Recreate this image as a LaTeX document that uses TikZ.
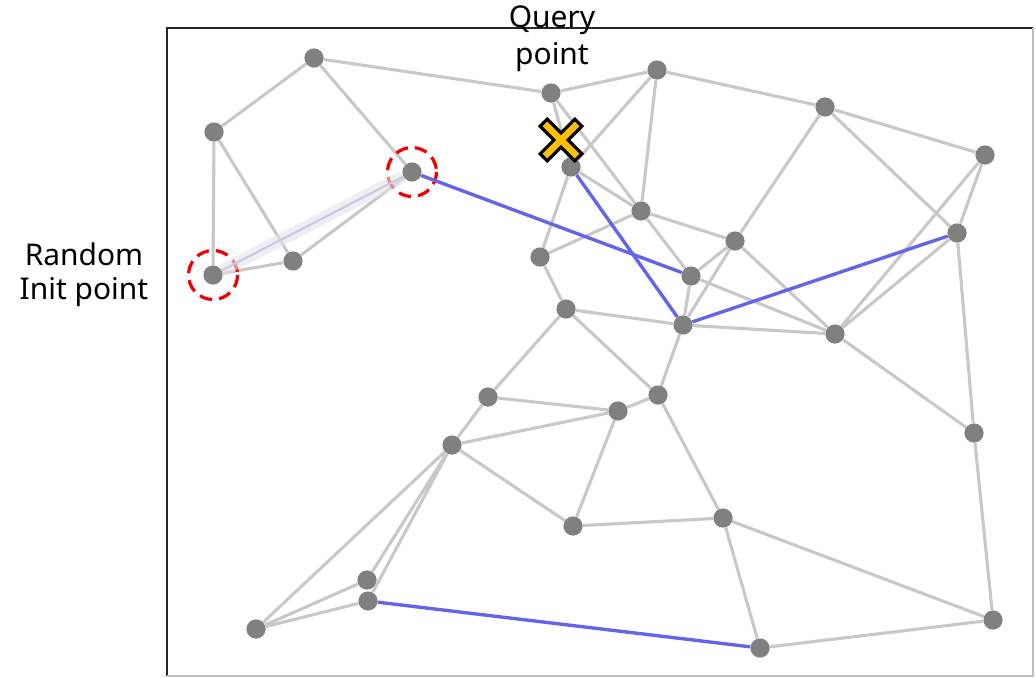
\documentclass[tikz,border=0pt]{standalone}
\usepackage{fontspec}
\setmainfont{Noto Sans}
\usetikzlibrary{calc}

\definecolor{edgegray}{RGB}{200,200,200}
\definecolor{nodegray}{RGB}{128,128,128}
\definecolor{routeblue}{RGB}{100,100,235}
\definecolor{ringred}{RGB}{240,0,0}
\definecolor{crossgold}{RGB}{255,192,0}
\definecolor{lavender}{RGB}{200,200,232}

\tikzset{
	pt/.style={circle, fill=nodegray, inner sep=0pt, minimum size=0.48cm},
	edge/.style={draw=edgegray, line width=2.2pt},
	route/.style={draw=routeblue, line width=2.4pt},
	ring/.style={draw=ringred, line width=2.3pt, dash pattern=on 9pt off 5pt},
	lbl/.style={inner sep=0pt, align=center},
}

\begin{document}
\begin{tikzpicture}[x=0.025cm, y=-0.025cm]
		%%%%% START %%%%%
		\useasboundingbox (0,0) rectangle (1036,677);
		
		% frame
		\draw[line width=1.4pt, color=black!85] (167,676) -- (167,28) -- (1033,28);
		\draw[line width=0.8pt, color=black!25] (167,676) -- (1033,676) -- (1033,28);
		
		% points
		\node[pt] (v1) at (314,58) {};
		\node[pt] (v2) at (214,132) {};
		\node[pt] (v3) at (412,172) {};
		\node[pt] (v4) at (213,275) {};
		\node[pt] (v5) at (293,261) {};
		\node[pt] (v6) at (551,93) {};
		\node[pt] (v7) at (657,70) {};
		\node[pt] (v8) at (825,107) {};
		\node[pt] (v9) at (985,155) {};
		\node[pt] (v10) at (571,167) {};
		\node[pt] (v11) at (641,211) {};
		\node[pt] (v12) at (735,241) {};
		\node[pt] (v13) at (957,233) {};
		\node[pt] (v14) at (540,257) {};
		\node[pt] (v15) at (691,276) {};
		\node[pt] (v16) at (566,309) {};
		\node[pt] (v17) at (683,325) {};
		\node[pt] (v18) at (835,334) {};
		\node[pt] (v19) at (488,397) {};
		\node[pt] (v20) at (618,411) {};
		\node[pt] (v21) at (658,395) {};
		\node[pt] (v22) at (452,445) {};
		\node[pt] (v23) at (974,433) {};
		\node[pt] (v24) at (573,526) {};
		\node[pt] (v25) at (723,518) {};
		\node[pt] (v26) at (367,580) {};
		\node[pt] (v27) at (368,601) {};
		\node[pt] (v28) at (256,629) {};
		\node[pt] (v29) at (760,648) {};
		\node[pt] (v30) at (993,620) {};
		
		% graph edges
		\draw[edge] (v1) -- (v2) (v1) -- (v3) (v1) -- (v6);
		\draw[edge] (v2) -- (v4) (v2) -- (v5) (v4) -- (v5) (v5) -- (v3);
		\draw[edge] (v6) -- (v7) (v7) -- (v8) (v8) -- (v9);
		\draw[edge] (v6) -- (v10) (v6) -- (v11) (v7) -- (v10) (v7) -- (v11);
		\draw[edge] (v10) -- (v11) (v10) -- (v14) (v11) -- (v14);
		\draw[edge] (v11) -- (v12) (v11) -- (v15) (v8) -- (v12) (v8) -- (v13);
		\draw[edge] (v9) -- (v13) (v9) -- (v18) (v13) -- (v18);
		\draw[edge] (v12) -- (v15) (v12) -- (v17) (v12) -- (v18);
		\draw[edge] (v15) -- (v17) (v15) -- (v18) (v17) -- (v18);
		\draw[edge] (v14) -- (v16) (v16) -- (v17);
		\draw[edge] (v13) -- (v23) (v18) -- (v23) (v23) -- (v30);
		\draw[edge] (v16) -- (v19) (v16) -- (v21) (v17) -- (v21);
		\draw[edge] (v19) -- (v20) (v19) -- (v22) (v22) -- (v20) (v20) -- (v21);
		\draw[edge] (v20) -- (v24) (v22) -- (v24) (v21) -- (v25) (v24) -- (v25);
		\draw[edge] (v25) -- (v29) (v25) -- (v30) (v29) -- (v30);
		\draw[edge] (v22) -- (v26) (v22) -- (v27) (v22) -- (v28);
		\draw[edge] (v28) -- (v26) (v28) -- (v27);
		
		% start and entry rings
		\draw[ring] (v3) circle (24.5);
		\draw[ring] (v4) circle (24.5);
		
		% first hop
		\draw[line width=9pt, color=black!10, opacity=0.6] (v4) -- (v3);
		\draw[line width=1.5pt, color=lavender] (v4) -- (v3);
		
		% search route
		\draw[route] (v3) -- (v15);
		\draw[route] (v10) -- (v17);
		\draw[route] (v17) -- (v13);
		\draw[route] (v27) -- (v29);
		
		% query cross
		\begin{scope}[shift={(561,140)}, rotate=45]
			\draw[fill=crossgold, line width=2.2pt, line join=miter]
				(5,5) -- (24.5,5) -- (24.5,-5) -- (5,-5) -- (5,-24.5) -- (-5,-24.5) --
				(-5,-5) -- (-24.5,-5) -- (-24.5,5) -- (-5,5) -- (-5,24.5) -- (5,24.5) -- cycle;
		\end{scope}
		
		% labels
		\node[lbl, font=\fontsize{21.3}{26.3}\selectfont, anchor=base] (query) at (552,64.5) {Query\\point};
		\node[lbl, font=\fontsize{21.3}{23.5}\selectfont, anchor=base] (init) at (84,299) {Random\\Init point};
		
		%%%%% END %%%%%
	\end{tikzpicture}
\end{document}
